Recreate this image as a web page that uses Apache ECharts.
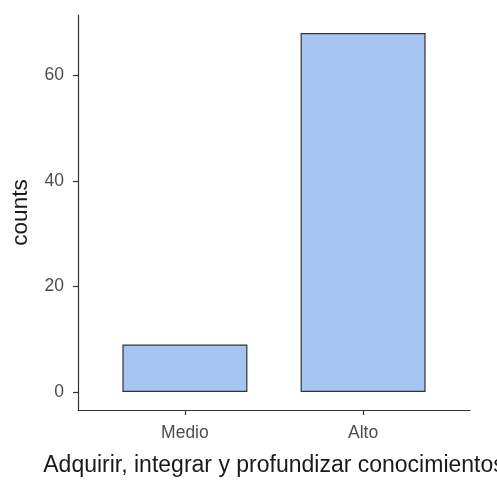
<!DOCTYPE html>
<html>
<head>
<meta charset="utf-8">
<script src="https://cdn.jsdelivr.net/npm/echarts@6/dist/echarts.min.js"></script>
<style>
  html, body { margin: 0; padding: 0; background: #fff; }
  #chart { width: 497px; height: 480px; }
</style>
</head>
<body>
<div id="chart"></div>
<script>
// data
var categories = ["Medio", "Alto"];
var counts = [9, 68];
var yTicks = [0, 20, 40, 60];

// categories sit at positions 1..n on a value axis (ggplot-like expansion)
var catPos = categories.map(function (c, i) { return i + 1; });
var barData = counts.map(function (v, i) { return [catPos[i], v]; });

var chart = echarts.init(document.getElementById("chart"));
var option = {
  backgroundColor: "#fff",
  animation: false,
  grid: { left: 78, right: 27, top: 15, bottom: 70, containLabel: false, outerBoundsMode: "none" },
  xAxis: {
    type: "value",
    min: 0.4,
    max: categories.length + 0.6,
    name: "Adquirir, integrar y profundizar conocimientos",
    nameLocation: "middle",
    nameGap: 44,
    nameMoveOverlap: false,
    nameTextStyle: { color: "#1a1a1a", fontSize: 23, fontFamily: "Liberation Sans" },
    splitLine: { show: false },
    axisLine: { show: true, onZero: false, lineStyle: { color: "#333", width: 1.2 } },
    axisTick: { show: true, length: 5, lineStyle: { color: "#333", width: 1.2 }, customValues: catPos },
    axisLabel: {
      customValues: catPos,
      margin: 14,
      color: "#4d4d4d",
      fontSize: 17.5,
      fontFamily: "Liberation Sans",
      formatter: function (v) { return categories[Math.round(v) - 1]; }
    }
  },
  yAxis: {
    type: "value",
    min: -3.4,
    max: 71.4,
    name: "counts",
    nameLocation: "middle",
    nameGap: 46,
    nameMoveOverlap: false,
    nameTextStyle: { color: "#1a1a1a", fontSize: 22.5, fontFamily: "Liberation Sans" },
    splitLine: { show: false },
    axisLine: { show: true, onZero: false, lineStyle: { color: "#333", width: 1.2 } },
    axisTick: { show: true, length: 5, lineStyle: { color: "#333", width: 1.2 }, customValues: yTicks },
    axisLabel: {
      customValues: yTicks,
      margin: 14,
      color: "#4d4d4d",
      fontSize: 17.5,
      fontFamily: "Liberation Sans"
    }
  },
  series: [
    {
      type: "bar",
      data: barData,
      barWidth: 125,
      itemStyle: { color: "#a6c5f2", borderColor: "#333", borderWidth: 1.2 }
    }
  ]
};
chart.setOption(option);
</script>
</body>
</html>
